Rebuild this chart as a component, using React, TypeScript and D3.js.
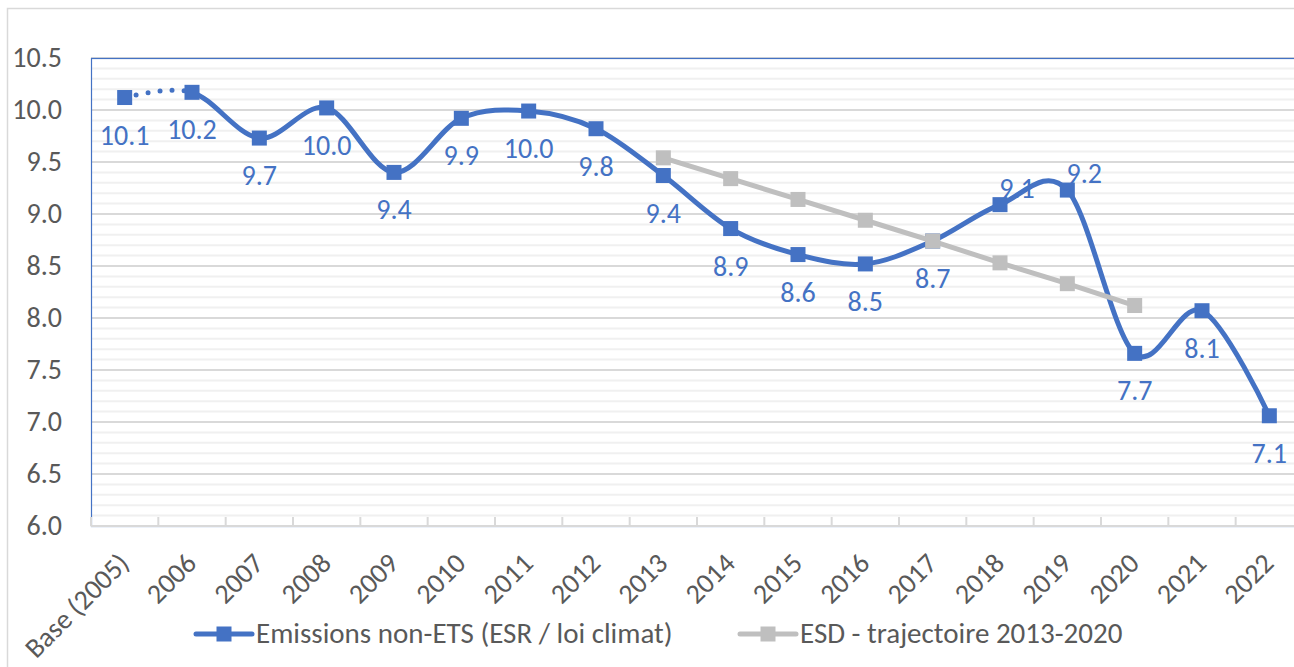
import React from "react";
import * as d3 from "d3";

const categories = [
  "Base (2005)", "2006", "2007", "2008", "2009", "2010", "2011", "2012", "2013",
  "2014", "2015", "2016", "2017", "2018", "2019", "2020", "2021", "2022",
];
const emissions = [
  10.12, 10.17, 9.73, 10.02, 9.4, 9.92, 9.99, 9.82, 9.37,
  8.86, 8.61, 8.52, 8.74, 9.09, 9.23, 7.66, 8.07, 7.06,
];
const esd: (number | null)[] = [
  null, null, null, null, null, null, null, null, 9.54,
  9.34, 9.14, 8.94, 8.74, 8.53, 8.33, 8.12, null, null,
];
// data label placement for the emissions series
const labelPlacement = [
  "below", "below", "below", "below", "below", "below", "below", "below", "below",
  "below", "below", "below", "below", "aboveRight", "aboveRight", "below", "below", "below",
];
const yTicks = [6.0, 6.5, 7.0, 7.5, 8.0, 8.5, 9.0, 9.5, 10.0, 10.5];
const seriesNames = ["Emissions non-ETS (ESR / loi climat)", "ESD - trajectoire 2013-2020"];

const BLUE = "#4472C4";
const GRAY = "#BFBFBF";
const TEXT = "#595959";
const FONT = "Carlito, Calibri, 'Liberation Sans', Arial, sans-serif";

export default function App() {
  const W = 1294;
  const H = 667;
  const left = 91;
  const right = 1303;
  const top = 58;
  const bottom = 526;

  const x = d3.scaleBand<string>().domain(categories).range([left, right]).padding(0);
  const cx = (c: string) => (x(c) as number) + x.bandwidth() / 2;
  const y = d3.scaleLinear().domain([6, 10.5]).range([bottom, top]);

  const minor = d3.range(61, 105).map((v) => v / 10).filter((v) => Math.round(v * 10) % 5 !== 0);

  const ptsE = categories.map((c, i) => [cx(c), y(emissions[i])] as [number, number]);
  const smooth = d3.line().curve(d3.curveCardinal.tension(0));
  const pathE = smooth(ptsE) as string;
  const splitX = cx(categories[1]);

  const ptsG = categories
    .map((c, i) => (esd[i] == null ? null : ([cx(c), y(esd[i] as number)] as [number, number])))
    .filter((p) => p != null) as [number, number][];
  const pathG = d3.line()(ptsG) as string;

  const ms = 15;
  const fs = 28;

  return (
    <svg
      width={W}
      height={H}
      style={{ position: "absolute", left: 0, top: 0, background: "#fff" }}
      fontFamily={FONT}
    >
      <defs>
        <clipPath id="clipDot">
          <rect x={0} y={0} width={splitX} height={H} />
        </clipPath>
        <clipPath id="clipSolid">
          <rect x={splitX} y={0} width={W} height={H} />
        </clipPath>
      </defs>
      <rect x={0} y={0} width={W} height={H} fill="#fff" />
      <rect x={7.5} y={8.5} width={W + 50} height={H + 50} fill="none" stroke="#D9D9D9" strokeWidth={1.5} />

      {/* minor gridlines */}
      {minor.map((v) => (
        <line key={"m" + v} x1={left} x2={right} y1={y(v)} y2={y(v)} stroke="#F0F0F0" strokeWidth={2} />
      ))}
      {/* major gridlines */}
      {yTicks.slice(1).map((v) => (
        <line key={"g" + v} x1={left} x2={right} y1={y(v)} y2={y(v)} stroke="#D9D9D9" strokeWidth={2} />
      ))}
      {/* plot area border */}
      <rect x={left + 0.5} y={top + 0.5} width={right - left} height={bottom - top} fill="none" stroke={BLUE} strokeWidth={1.2} />
      {/* x axis line and ticks */}
      <line x1={left} x2={right} y1={bottom} y2={bottom} stroke="#D9D9D9" strokeWidth={2} />
      {categories.map((c) => (
        <line key={"t" + c} x1={x(c) as number} x2={x(c) as number} y1={bottom - 9} y2={bottom} stroke="#D9D9D9" strokeWidth={2} />
      ))}

      {/* y tick labels */}
      {yTicks.map((v) => (
        <text key={"y" + v} x={62} y={y(v) + 9} textAnchor="end" fontSize={fs} fill={TEXT}>
          {v.toFixed(1)}
        </text>
      ))}
      {/* x tick labels */}
      {categories.map((c) => (
        <text
          key={"x" + c}
          transform={`translate(${cx(c) + 6},${565}) rotate(-45)`}
          textAnchor="end"
          fontSize={28}
          fill={TEXT}
        >
          {c}
        </text>
      ))}

      {/* emissions series */}
      <path d={pathE} fill="none" stroke={BLUE} strokeWidth={5} strokeDasharray="0 12" strokeLinecap="round" clipPath="url(#clipDot)" />
      <path d={pathE} fill="none" stroke={BLUE} strokeWidth={5} strokeLinejoin="round" clipPath="url(#clipSolid)" />
      {ptsE.map((p, i) => (
        <rect key={"e" + i} x={p[0] - ms / 2} y={p[1] - ms / 2} width={ms} height={ms} fill={BLUE} />
      ))}

      {/* ESD series */}
      <path d={pathG} fill="none" stroke={GRAY} strokeWidth={5} strokeLinejoin="round" />
      {ptsG.map((p, i) => (
        <rect key={"g" + i} x={p[0] - ms / 2} y={p[1] - ms / 2} width={ms} height={ms} fill={GRAY} />
      ))}

      {/* data labels */}
      {ptsE.map((p, i) => {
        const pl = labelPlacement[i];
        const lx = pl === "aboveRight" ? p[0] + 17 : p[0];
        const ly = pl === "aboveRight" ? p[1] - 7 : p[1] + 47;
        return (
          <text key={"l" + i} x={lx} y={ly} textAnchor="middle" fontSize={fs} fill={BLUE}>
            {emissions[i].toFixed(1)}
          </text>
        );
      })}

      {/* legend */}
      <g>
        <line x1={196} x2={252} y1={634} y2={634} stroke={BLUE} strokeWidth={5} strokeLinecap="round" />
        <rect x={224 - ms / 2} y={634 - ms / 2} width={ms} height={ms} fill={BLUE} />
        <text x={256} y={643} fontSize={29} fill={TEXT}>{seriesNames[0]}</text>
        <line x1={740} x2={796} y1={634} y2={634} stroke={GRAY} strokeWidth={5} strokeLinecap="round" />
        <rect x={768 - ms / 2} y={634 - ms / 2} width={ms} height={ms} fill={GRAY} />
        <text x={800} y={643} fontSize={29} fill={TEXT}>{seriesNames[1]}</text>
      </g>
    </svg>
  );
}
